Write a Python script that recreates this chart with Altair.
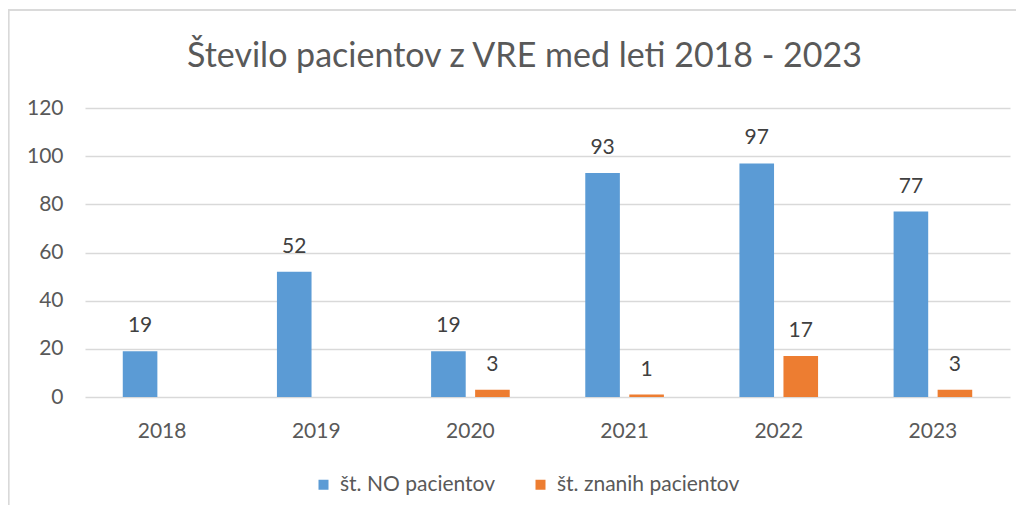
import altair as alt
import pandas as pd

years = ["2018", "2019", "2020", "2021", "2022", "2023"]
series_names = ["št. NO pacientov", "št. znanih pacientov"]
no_values = [19, 52, 19, 93, 97, 77]
znani_values = [0, 0, 3, 1, 17, 3]
colors = ["#5B9BD5", "#ED7D31"]

rows = []
for i, y in enumerate(years):
    rows.append({"leto": y, "serija": series_names[0], "vrednost": no_values[i]})
    rows.append({"leto": y, "serija": series_names[1], "vrednost": znani_values[i]})
df = pd.DataFrame(rows)

FONT = "Lato"
W, H = 925, 289

x = alt.X("leto:N", sort=years, title=None,
          scale=alt.Scale(paddingInner=0.49, paddingOuter=0.245),
          axis=alt.Axis(labelAngle=0, domain=False, ticks=False, labelPadding=23,
                        labelFontSize=21, labelColor="#595959", labelFont=FONT))
xo = alt.XOffset("serija:N", sort=series_names,
                 scale=alt.Scale(paddingInner=0.214, paddingOuter=0))
y = alt.Y("vrednost:Q", title=None,
          scale=alt.Scale(domain=[0, 120], nice=False),
          axis=alt.Axis(values=[0, 20, 40, 60, 80, 100, 120], domain=False, ticks=False,
                        labelPadding=22, labelFontSize=21, labelColor="#595959",
                        labelFont=FONT, gridColor="#D9D9D9", gridWidth=1.3))
color = alt.Color("serija:N", sort=series_names,
                  scale=alt.Scale(domain=series_names, range=colors),
                  legend=alt.Legend(title=None, orient="none", legendX=228, legendY=366,
                                    direction="horizontal", symbolType="square",
                                    symbolSize=100, symbolStrokeWidth=0,
                                    labelFontSize=21, labelFont=FONT, labelColor="#595959",
                                    labelLimit=400, columnPadding=34, labelOffset=6))

bars = alt.Chart(df).mark_bar().encode(x=x, xOffset=xo, y=y, color=color)

labels = alt.Chart(df).transform_filter("datum.vrednost > 0").mark_text(
    dy=-19, baseline="alphabetic", fontSize=21, font=FONT, color="#404040"
).encode(x=x, xOffset=xo, y=y, text="vrednost:Q")

border = alt.Chart(df).mark_rect(fill=None, stroke="#D9D9D9", strokeWidth=1.2).encode(
    x=alt.value(-76.5), x2=alt.value(2000), y=alt.value(-98), y2=alt.value(2000)
)

chart = alt.layer(border, bars, labels).properties(
    width=W, height=H,
    title=alt.TitleParams("Število pacientov z VRE med leti 2018 - 2023",
                          font=FONT, fontSize=34, fontWeight="normal", color="#595959",
                          anchor="middle", frame="group", dx=-23, offset=-92,
                          baseline="alphabetic"),
    autosize=alt.AutoSizeParams(type="none"),
    padding={"left": 77, "top": 100, "right": 6, "bottom": 108},
).configure_view(stroke=None)

chart.save("out.html", embed_options={"renderer": "svg", "actions": False})
